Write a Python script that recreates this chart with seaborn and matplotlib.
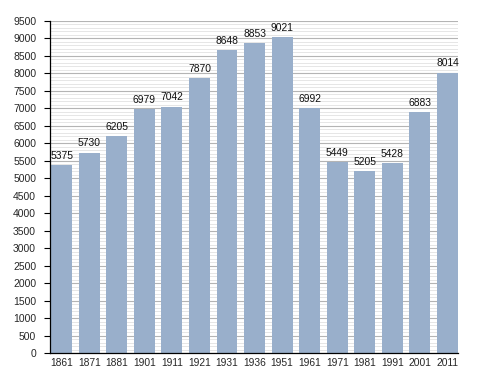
import numpy as np
import pandas as pd
import seaborn as sns
import matplotlib.pyplot as plt
from matplotlib.ticker import MultipleLocator

years = ['1861', '1871', '1881', '1901', '1911', '1921', '1931', '1936',
         '1951', '1961', '1971', '1981', '1991', '2001', '2011']
population = [5375, 5730, 6205, 6979, 7042, 7870, 8648, 8853,
              9021, 6992, 5449, 5205, 5428, 6883, 8014]

df = pd.DataFrame({'annee': years, 'pop': population})

sns.set_style('white')
plt.rcParams['font.family'] = ['Liberation Sans', 'DejaVu Sans']
narrow = ['Liberation Sans Narrow', 'Liberation Sans', 'DejaVu Sans']

fig = plt.figure(figsize=(4.88, 3.73), dpi=100)
ax = fig.add_axes([0.1025, 0.0536, 0.836, 0.891])

sns.barplot(data=df, x='annee', y='pop', order=years, color='#99afcb',
            saturation=1, width=0.76, linewidth=0, ax=ax)

## valeurs au-dessus des barres
ax.bar_label(ax.containers[0], padding=3, fontsize=7.4, color='#111111',
             family=narrow)

ax.set_ylim(0, 9500)
ax.set_xlim(-0.42, 14.38)
ax.yaxis.set_major_locator(MultipleLocator(500))
ax.yaxis.set_minor_locator(MultipleLocator(100))
ax.set_axisbelow(True)
ax.grid(axis='y', which='major', color='#b4b4b4', lw=0.8)
ax.grid(axis='y', which='minor', color='#e2e2e2', lw=0.6)

ax.tick_params(axis='y', which='major', direction='out', length=4, width=0.8,
               labelsize=7.5, pad=6, color='black')
ax.tick_params(axis='y', which='minor', direction='in', length=2, width=0.6,
               color='black')
ax.tick_params(axis='x', length=0, labelsize=7.4, pad=3.5)
for lbl in ax.get_xticklabels():
    lbl.set_family(narrow)
ax.tick_params(left=True)

for side in ['top', 'right']:
    ax.spines[side].set_visible(False)
ax.spines['left'].set_color('black')
ax.spines['bottom'].set_color('black')
ax.spines['left'].set_linewidth(0.9)
ax.spines['bottom'].set_linewidth(0.9)

ax.set_xlabel('')
ax.set_ylabel('')

plt.savefig('out.png', dpi=100)
